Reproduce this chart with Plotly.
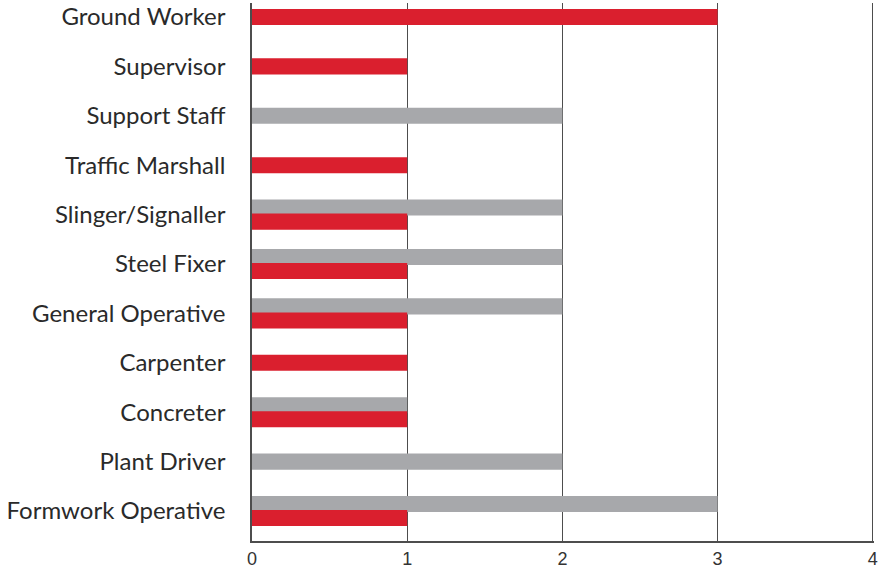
import plotly.graph_objects as go

categories = [
    "Ground Worker", "Supervisor", "Support Staff", "Traffic Marshall",
    "Slinger/Signaller", "Steel Fixer", "General Operative", "Carpenter",
    "Concreter", "Plant Driver", "Formwork Operative",
]
grey_values = [None, None, 2, None, 2, 2, 2, None, 1, 2, 3]
red_values = [3, 1, None, 1, 1, 1, 1, 1, 1, None, 1]

GREY = "#A7A8AB"
RED = "#DA1F2E"
W = 0.325

# paired categories split the slot, single ones sit centred
both = [g is not None and r is not None for g, r in zip(grey_values, red_values)]
grey_off = [-0.305 if b else -W / 2 for b in both]
red_off = [-0.02 if b else -W / 2 for b in both]

fig = go.Figure()
fig.add_trace(go.Bar(y=categories, x=grey_values, orientation="h", marker_color=GREY,
                     marker_line_width=0, width=W, offset=grey_off))
fig.add_trace(go.Bar(y=categories, x=red_values, orientation="h", marker_color=RED,
                     marker_line_width=0, width=W, offset=red_off))

fig.update_layout(
    width=884, height=574,
    margin=dict(l=252, r=10, t=3, b=33),
    plot_bgcolor="white", paper_bgcolor="white",
    showlegend=False,
    barmode="overlay",
)
fig.update_xaxes(
    range=[0, 4.008], tickvals=[0, 1, 2, 3, 4],
    showgrid=True, gridcolor="#4d4d4d", gridwidth=1.4,
    showline=True, linecolor="#4d4d4d", linewidth=1.6,
    zeroline=False, mirror=False, automargin=False,
    tickfont=dict(family="Liberation Sans, Arial", size=18, color="#333333"),
    ticklabelstandoff=1,
)
fig.update_yaxes(
    categoryorder="array", categoryarray=categories,
    range=[10.607, -0.283],
    showgrid=False, showline=True, linecolor="#4d4d4d", linewidth=1.6,
    automargin=False,
    tickfont=dict(family="Lato", size=24, color="#2a2a2a"),
    ticklabelstandoff=20,
)

fig.write_html("out.html", config={"displayModeBar": False},
               post_script="document.body.style.margin='0';")
